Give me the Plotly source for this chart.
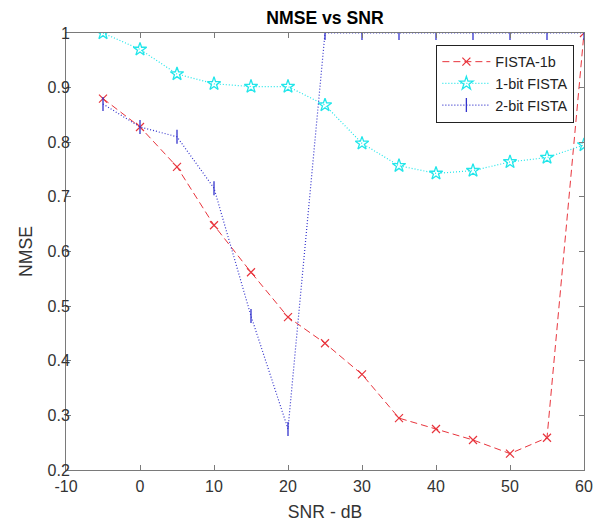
import plotly.graph_objects as go

snr = [-5, 0, 5, 10, 15, 20, 25, 30, 35, 40, 45, 50, 55, 60]
fista_1b = [0.88, 0.828, 0.755, 0.648, 0.562, 0.48, 0.432, 0.375, 0.295, 0.275, 0.255, 0.23, 0.259, 1.0]
fista_1bit = [1.0, 0.97, 0.925, 0.907, 0.902, 0.902, 0.868, 0.798, 0.757, 0.743, 0.748, 0.764, 0.772, 0.795]
fista_2bit = [0.87, 0.828, 0.81, 0.716, 0.482, 0.275, 1.0, 1.0, 1.0, 1.0, 1.0, 1.0, 1.0, 1.0]

x_ticks = [-10, 0, 10, 20, 30, 40, 50, 60]
x_tick_text = ["-10", "0", "10", "20", "30", "40", "50", "60"]
y_ticks = [0.2, 0.3, 0.4, 0.5, 0.6, 0.7, 0.8, 0.9, 1.0]
y_tick_text = ["0.2", "0.3", "0.4", "0.5", "0.6", "0.7", "0.8", "0.9", "1"]

FONT = "Liberation Sans, Arial, sans-serif"
RED = "#e8343c"
CYAN = "#22e6ea"
BLUE = "#3333cc"

W, H = 603, 529

fig = go.Figure()
fig.add_trace(go.Scatter(x=snr, y=fista_1b, name="FISTA-1b", mode="lines+markers",
                         line=dict(color=RED, dash="7px,4px", width=1),
                         marker=dict(symbol="x-thin-open", size=8, line=dict(color=RED, width=1.2))))
fig.add_trace(go.Scatter(x=snr, y=fista_1bit, name="1-bit FISTA", mode="lines+markers",
                         line=dict(color=CYAN, dash="1px,2px", width=1.2),
                         marker=dict(symbol="star-open", size=10, color=CYAN, line=dict(color=CYAN, width=1.3))))
fig.add_trace(go.Scatter(x=snr, y=fista_2bit, name="2-bit FISTA", mode="lines+markers",
                         line=dict(color=BLUE, dash="1px,2px", width=1.2),
                         marker=dict(symbol="line-ns-open", size=10, line=dict(color=BLUE, width=1.3))))

axis_common = dict(showgrid=False, zeroline=False, showline=True, linecolor="#7a7a7a", linewidth=1,
                   mirror="ticks", ticks="inside", ticklen=5, tickcolor="#7a7a7a",
                   tickfont=dict(family=FONT, size=16, color="#333333"))

fig.update_layout(
    width=W, height=H,
    margin=dict(l=66, r=10, t=33, b=52),
    paper_bgcolor="white", plot_bgcolor="white",
    hovermode=False,
    title=dict(text="<b>NMSE vs SNR</b>", x=0.5, xanchor="center", xref="paper", y=1 - 18 / H, yanchor="middle",
               font=dict(family=FONT, size=17.6, color="#000000")),
    xaxis=dict(range=[-10, 60], tickvals=x_ticks, ticktext=x_tick_text, ticklabelstandoff=2,
               title=dict(text="SNR - dB", standoff=11, font=dict(family=FONT, size=17.6, color="#333333")),
               **axis_common),
    yaxis=dict(range=[0.2, 1.0], tickvals=y_ticks, ticktext=y_tick_text, ticklabelstandoff=-8,
               title=dict(text="NMSE", standoff=10, font=dict(family=FONT, size=17.6, color="#333333")),
               **axis_common),
    legend=dict(x=0.715, y=0.973, xanchor="left", yanchor="top", bgcolor="white",
                bordercolor="#222222", borderwidth=1,
                font=dict(family=FONT, size=14.4, color="#222222"),
                tracegroupgap=0, itemwidth=48),
    showlegend=True,
)

# place the figure at the page origin (remove the default 8px body margin)
fig.write_html("out.html", config={"displayModeBar": False},
               post_script="document.body.style.margin='0px';document.body.style.overflow='hidden';")
